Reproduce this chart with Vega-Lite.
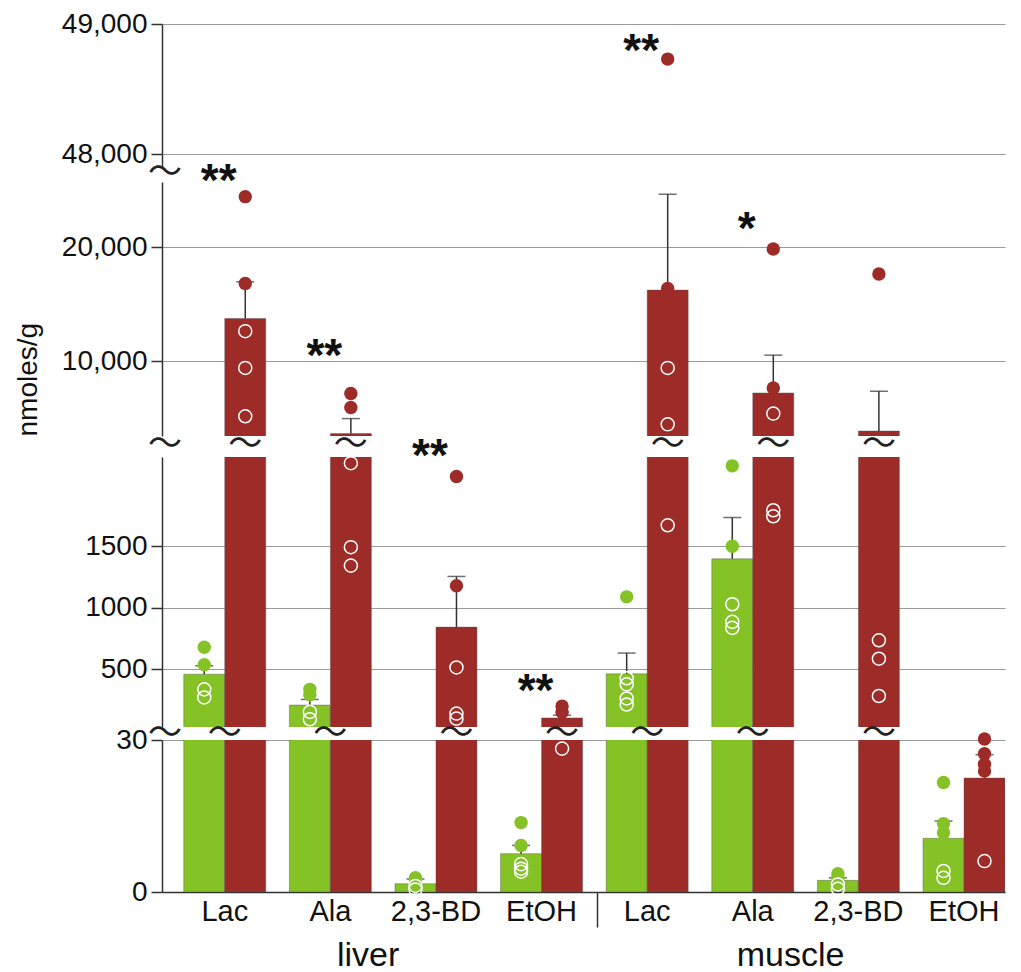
{
"$schema":"https://vega.github.io/schema/vega-lite/v6.json",
"padding":{"left":14,"top":10,"right":5,"bottom":5},
"config":{"view":{"stroke":null},"font":"Liberation Sans"},
"datasets":{
"bars":[
{"k":"liver Lac|g","cat":"liver Lac","grp":"g","mean":459,"hi":528},
{"k":"liver Lac|r","cat":"liver Lac","grp":"r","mean":13756,"hi":16976},
{"k":"liver Ala|g","cat":"liver Ala","grp":"g","mean":208,"hi":254},
{"k":"liver Ala|r","cat":"liver Ala","grp":"r","mean":3640,"hi":4959},
{"k":"liver 2,3-BD|g","cat":"liver 2,3-BD","grp":"g","mean":1.64,"hi":2.57},
{"k":"liver 2,3-BD|r","cat":"liver 2,3-BD","grp":"r","mean":842,"hi":1254},
{"k":"liver EtOH|g","cat":"liver EtOH","grp":"g","mean":7.57,"hi":9.2},
{"k":"liver EtOH|r","cat":"liver EtOH","grp":"r","mean":104,"hi":126},
{"k":"muscle Lac|g","cat":"muscle Lac","grp":"g","mean":462,"hi":631},
{"k":"muscle Lac|r","cat":"muscle Lac","grp":"r","mean":16246,"hi":24664},
{"k":"muscle Ala|g","cat":"muscle Ala","grp":"g","mean":1397,"hi":1733},
{"k":"muscle Ala|r","cat":"muscle Ala","grp":"r","mean":7211,"hi":10528},
{"k":"muscle 2,3-BD|g","cat":"muscle 2,3-BD","grp":"g","mean":2.3,"hi":2.8},
{"k":"muscle 2,3-BD|r","cat":"muscle 2,3-BD","grp":"r","mean":3868,"hi":7361},
{"k":"muscle EtOH|g","cat":"muscle EtOH","grp":"g","mean":10.6,"hi":14.0},
{"k":"muscle EtOH|r","cat":"muscle EtOH","grp":"r","mean":22.5,"hi":27.1}
],
"pts":[
{"k":"liver Lac|g","cat":"liver Lac","grp":"g","v":678},
{"k":"liver Lac|g","cat":"liver Lac","grp":"g","v":536},
{"k":"liver Lac|g","cat":"liver Lac","grp":"g","v":336},
{"k":"liver Lac|g","cat":"liver Lac","grp":"g","v":270},
{"k":"liver Lac|r","cat":"liver Lac","grp":"r","v":24453},
{"k":"liver Lac|r","cat":"liver Lac","grp":"r","v":16835},
{"k":"liver Lac|r","cat":"liver Lac","grp":"r","v":12639},
{"k":"liver Lac|r","cat":"liver Lac","grp":"r","v":9411},
{"k":"liver Lac|r","cat":"liver Lac","grp":"r","v":5162},
{"k":"liver Ala|g","cat":"liver Ala","grp":"g","v":336},
{"k":"liver Ala|g","cat":"liver Ala","grp":"g","v":293},
{"k":"liver Ala|g","cat":"liver Ala","grp":"g","v":153},
{"k":"liver Ala|g","cat":"liver Ala","grp":"g","v":93},
{"k":"liver Ala|r","cat":"liver Ala","grp":"r","v":7159},
{"k":"liver Ala|r","cat":"liver Ala","grp":"r","v":5927},
{"k":"liver Ala|r","cat":"liver Ala","grp":"r","v":2175},
{"k":"liver Ala|r","cat":"liver Ala","grp":"r","v":1492},
{"k":"liver Ala|r","cat":"liver Ala","grp":"r","v":1342},
{"k":"liver 2,3-BD|g","cat":"liver 2,3-BD","grp":"g","v":2.8},
{"k":"liver 2,3-BD|g","cat":"liver 2,3-BD","grp":"g","v":2.5},
{"k":"liver 2,3-BD|g","cat":"liver 2,3-BD","grp":"g","v":1.2},
{"k":"liver 2,3-BD|g","cat":"liver 2,3-BD","grp":"g","v":0.5},
{"k":"liver 2,3-BD|r","cat":"liver 2,3-BD","grp":"r","v":2066},
{"k":"liver 2,3-BD|r","cat":"liver 2,3-BD","grp":"r","v":1178},
{"k":"liver 2,3-BD|r","cat":"liver 2,3-BD","grp":"r","v":514},
{"k":"liver 2,3-BD|r","cat":"liver 2,3-BD","grp":"r","v":139},
{"k":"liver 2,3-BD|r","cat":"liver 2,3-BD","grp":"r","v":98},
{"k":"liver EtOH|g","cat":"liver EtOH","grp":"g","v":13.7},
{"k":"liver EtOH|g","cat":"liver EtOH","grp":"g","v":9.2},
{"k":"liver EtOH|g","cat":"liver EtOH","grp":"g","v":5.5},
{"k":"liver EtOH|g","cat":"liver EtOH","grp":"g","v":4.6},
{"k":"liver EtOH|g","cat":"liver EtOH","grp":"g","v":4.0},
{"k":"liver EtOH|r","cat":"liver EtOH","grp":"r","v":200},
{"k":"liver EtOH|r","cat":"liver EtOH","grp":"r","v":150},
{"k":"liver EtOH|r","cat":"liver EtOH","grp":"r","v":28.3},
{"k":"muscle Lac|g","cat":"muscle Lac","grp":"g","v":1088},
{"k":"muscle Lac|g","cat":"muscle Lac","grp":"g","v":426},
{"k":"muscle Lac|g","cat":"muscle Lac","grp":"g","v":377},
{"k":"muscle Lac|g","cat":"muscle Lac","grp":"g","v":262},
{"k":"muscle Lac|g","cat":"muscle Lac","grp":"g","v":213},
{"k":"muscle Lac|r","cat":"muscle Lac","grp":"r","v":48730},
{"k":"muscle Lac|r","cat":"muscle Lac","grp":"r","v":16395},
{"k":"muscle Lac|r","cat":"muscle Lac","grp":"r","v":9411},
{"k":"muscle Lac|r","cat":"muscle Lac","grp":"r","v":4458},
{"k":"muscle Lac|r","cat":"muscle Lac","grp":"r","v":1670},
{"k":"muscle Ala|g","cat":"muscle Ala","grp":"g","v":2153},
{"k":"muscle Ala|g","cat":"muscle Ala","grp":"g","v":1500},
{"k":"muscle Ala|g","cat":"muscle Ala","grp":"g","v":1028},
{"k":"muscle Ala|g","cat":"muscle Ala","grp":"g","v":885},
{"k":"muscle Ala|g","cat":"muscle Ala","grp":"g","v":836},
{"k":"muscle Ala|r","cat":"muscle Ala","grp":"r","v":19853},
{"k":"muscle Ala|r","cat":"muscle Ala","grp":"r","v":7651},
{"k":"muscle Ala|r","cat":"muscle Ala","grp":"r","v":5399},
{"k":"muscle Ala|r","cat":"muscle Ala","grp":"r","v":1792},
{"k":"muscle Ala|r","cat":"muscle Ala","grp":"r","v":1743},
{"k":"muscle 2,3-BD|g","cat":"muscle 2,3-BD","grp":"g","v":3.6},
{"k":"muscle 2,3-BD|g","cat":"muscle 2,3-BD","grp":"g","v":2.7},
{"k":"muscle 2,3-BD|g","cat":"muscle 2,3-BD","grp":"g","v":1.5},
{"k":"muscle 2,3-BD|g","cat":"muscle 2,3-BD","grp":"g","v":0.65},
{"k":"muscle 2,3-BD|r","cat":"muscle 2,3-BD","grp":"r","v":17653},
{"k":"muscle 2,3-BD|r","cat":"muscle 2,3-BD","grp":"r","v":735},
{"k":"muscle 2,3-BD|r","cat":"muscle 2,3-BD","grp":"r","v":585},
{"k":"muscle 2,3-BD|r","cat":"muscle 2,3-BD","grp":"r","v":282},
{"k":"muscle EtOH|g","cat":"muscle EtOH","grp":"g","v":21.6},
{"k":"muscle EtOH|g","cat":"muscle EtOH","grp":"g","v":13.5},
{"k":"muscle EtOH|g","cat":"muscle EtOH","grp":"g","v":11.7},
{"k":"muscle EtOH|g","cat":"muscle EtOH","grp":"g","v":4.15},
{"k":"muscle EtOH|g","cat":"muscle EtOH","grp":"g","v":2.8},
{"k":"muscle EtOH|r","cat":"muscle EtOH","grp":"r","v":30.2},
{"k":"muscle EtOH|r","cat":"muscle EtOH","grp":"r","v":27.3},
{"k":"muscle EtOH|r","cat":"muscle EtOH","grp":"r","v":25.2},
{"k":"muscle EtOH|r","cat":"muscle EtOH","grp":"r","v":23.9},
{"k":"muscle EtOH|r","cat":"muscle EtOH","grp":"r","v":6.1}
],
"ast":[
{"seg":4,"cat":"muscle Lac","t":"**","v":48879},
{"seg":3,"cat":"liver Lac","t":"**","v":26800},
{"seg":3,"cat":"liver Ala","t":"**","v":11407},
{"seg":3,"cat":"muscle Ala","t":"*","v":22580},
{"seg":2,"cat":"liver 2,3-BD","t":"**","v":2325},
{"seg":2,"cat":"liver EtOH","t":"**","v":416}
],
"sq":[
{"brk":"A","kind":"axis","cat":"liver Lac","grp":"g"},
{"brk":"A","kind":"pair","cat":"liver Lac","grp":"g"},
{"brk":"A","kind":"pair","cat":"liver Ala","grp":"g"},
{"brk":"A","kind":"bar","cat":"liver 2,3-BD","grp":"r"},
{"brk":"A","kind":"bar","cat":"liver EtOH","grp":"r"},
{"brk":"A","kind":"pair","cat":"muscle Lac","grp":"g"},
{"brk":"A","kind":"pair","cat":"muscle Ala","grp":"g"},
{"brk":"A","kind":"bar","cat":"muscle 2,3-BD","grp":"r"},
{"brk":"B","kind":"axis","cat":"liver Lac","grp":"g"},
{"brk":"B","kind":"bar","cat":"liver Lac","grp":"r"},
{"brk":"B","kind":"bar","cat":"liver Ala","grp":"r"},
{"brk":"B","kind":"bar","cat":"muscle Lac","grp":"r"},
{"brk":"B","kind":"bar","cat":"muscle Ala","grp":"r"},
{"brk":"B","kind":"bar","cat":"muscle 2,3-BD","grp":"r"},
{"brk":"C","kind":"axis","cat":"liver Lac","grp":"g"}
],
"grpl":[
{"cat":"liver Ala","t":"liver"},
{"cat":"muscle Ala","t":"muscle"}
]
},
"spacing":6,
"bounds":"flush",
"vconcat":[
{"width":843,"height":143,
"layer":[
{"data":{"name":"bars"},"mark":{"type":"bar","clip":true,"stroke":"#555","strokeWidth":0.6,"strokeOpacity":0.7},
"encoding":{"x":{"field":"cat","type":"nominal","scale":{"domain":["liver Lac","liver Ala","liver 2,3-BD","liver EtOH","muscle Lac","muscle Ala","muscle 2,3-BD","muscle EtOH"],"paddingInner":0.2235,"paddingOuter":0.103,"align":1},"axis":null},
"xOffset":{"field":"grp","type":"nominal","scale":{"domain":["g","r"],"paddingInner":0,"paddingOuter":0}},
"y":{"field":"mean","type":"quantitative","scale":{"domain":[47900,49000],"nice":false,"zero":false},
"axis":{"values":[48000,49000],"format":",d","title":null,"tickSize":11,"tickWidth":1.5,"tickColor":"#333","domainColor":"#333","domainWidth":1.5,"labelPadding":4,"labelFontSize":28,"labelColor":"#111","labelFont":"Liberation Sans","grid":true,"gridColor":"#9a9a9a","gridWidth":1,"labelOverlap":false,"labelFlush":false,"labelBound":false}},
"color":{"field":"grp","type":"nominal","scale":{"domain":["g","r"],"range":["#84c225","#9d2b28"]},"legend":null}}},
{"data":{"name":"pts"},"transform":[{"lookup":"k","from":{"data":{"name":"bars"},"key":"k","fields":["mean"]}},{"filter":"datum.v > datum.mean && datum.v > 30000"}],
"mark":{"type":"circle","size":180,"opacity":1},
"encoding":{"x":{"field":"cat","type":"nominal","scale":{"domain":["liver Lac","liver Ala","liver 2,3-BD","liver EtOH","muscle Lac","muscle Ala","muscle 2,3-BD","muscle EtOH"],"paddingInner":0.2235,"paddingOuter":0.103,"align":1},"axis":null},
"xOffset":{"field":"grp","type":"nominal","scale":{"domain":["g","r"],"paddingInner":0,"paddingOuter":0}},
"y":{"field":"v","type":"quantitative","scale":{"domain":[47900,49000],"nice":false,"zero":false}},
"color":{"field":"grp","type":"nominal","scale":{"domain":["g","r"],"range":["#84c225","#9d2b28"]},"legend":null}}},
{"data":{"name":"ast"},"transform":[{"filter":"datum.seg === 4"}],
"mark":{"type":"text","fontSize":46,"fontWeight":"bold","baseline":"alphabetic","dy":26,"dx":-6,"color":"#111"},
"encoding":{"x":{"field":"cat","type":"nominal","scale":{"domain":["liver Lac","liver Ala","liver 2,3-BD","liver EtOH","muscle Lac","muscle Ala","muscle 2,3-BD","muscle EtOH"],"paddingInner":0.2235,"paddingOuter":0.103,"align":1},"axis":null},
"y":{"field":"v","type":"quantitative","scale":{"domain":[47900,49000],"nice":false,"zero":false}},
"text":{"field":"t"}}},
{"data":{"name":"sq"},"transform":[{"filter":"datum.brk === 'C' && datum.kind === 'axis'"}],
"mark":{"type":"text","text":"〜","font":"Noto Sans CJK JP","fontSize":34,"baseline":"middle","dy":6,"color":"#222"},
"encoding":{"x":{"field":"cat","type":"nominal","bandPosition":-0.23,"scale":{"domain":["liver Lac","liver Ala","liver 2,3-BD","liver EtOH","muscle Lac","muscle Ala","muscle 2,3-BD","muscle EtOH"],"paddingInner":0.2235,"paddingOuter":0.103,"align":1},"axis":null},
"y":{"datum":47900,"type":"quantitative","scale":{"domain":[47900,49000],"nice":false,"zero":false}}}}
]},
{"width":843,"height":3,"data":{"values":[{"a":1}]},"mark":{"type":"point","opacity":0},"encoding":{}},
{"width":843,"height":254,
"layer":[
{"data":{"name":"bars"},"mark":{"type":"bar","clip":true,"stroke":"#555","strokeWidth":0.6,"strokeOpacity":0.7},
"encoding":{"x":{"field":"cat","type":"nominal","scale":{"domain":["liver Lac","liver Ala","liver 2,3-BD","liver EtOH","muscle Lac","muscle Ala","muscle 2,3-BD","muscle EtOH"],"paddingInner":0.2235,"paddingOuter":0.103,"align":1},"axis":null},
"xOffset":{"field":"grp","type":"nominal","scale":{"domain":["g","r"],"paddingInner":0,"paddingOuter":0}},
"y":{"field":"mean","type":"quantitative","scale":{"domain":[3430,25740],"nice":false,"zero":false},
"axis":{"values":[10000,20000],"format":",d","title":"nmoles/g","titleFontSize":28,"titleFontWeight":"normal","titleColor":"#111","titleFont":"Liberation Sans","titleAnchor":"start","titlePadding":19,"tickSize":11,"tickWidth":1.5,"tickColor":"#333","domainColor":"#333","domainWidth":1.5,"labelPadding":4,"labelFontSize":28,"labelColor":"#111","labelFont":"Liberation Sans","grid":true,"gridColor":"#9a9a9a","gridWidth":1,"labelOverlap":false,"labelFlush":false,"labelBound":false}},
"color":{"field":"grp","type":"nominal","scale":{"domain":["g","r"],"range":["#84c225","#9d2b28"]},"legend":null}}},
{"data":{"name":"bars"},"transform":[{"filter":"datum.hi > 3430"}],"mark":{"type":"rule","clip":true,"color":"#333","strokeWidth":1.5},
"encoding":{"x":{"field":"cat","type":"nominal","scale":{"domain":["liver Lac","liver Ala","liver 2,3-BD","liver EtOH","muscle Lac","muscle Ala","muscle 2,3-BD","muscle EtOH"],"paddingInner":0.2235,"paddingOuter":0.103,"align":1},"axis":null},
"xOffset":{"field":"grp","type":"nominal","scale":{"domain":["g","r"],"paddingInner":0,"paddingOuter":0}},
"y":{"field":"mean","type":"quantitative","scale":{"domain":[3430,25740],"nice":false,"zero":false}},
"y2":{"field":"hi"}}},
{"data":{"name":"bars"},"transform":[{"filter":"datum.hi > 3430"}],"mark":{"type":"tick","clip":true,"color":"#333","thickness":1.5,"size":18},
"encoding":{"x":{"field":"cat","type":"nominal","scale":{"domain":["liver Lac","liver Ala","liver 2,3-BD","liver EtOH","muscle Lac","muscle Ala","muscle 2,3-BD","muscle EtOH"],"paddingInner":0.2235,"paddingOuter":0.103,"align":1},"axis":null},
"xOffset":{"field":"grp","type":"nominal","scale":{"domain":["g","r"],"paddingInner":0,"paddingOuter":0}},
"y":{"field":"hi","type":"quantitative","scale":{"domain":[3430,25740],"nice":false,"zero":false}}}},
{"data":{"name":"pts"},"transform":[{"lookup":"k","from":{"data":{"name":"bars"},"key":"k","fields":["mean"]}},{"filter":"datum.v > datum.mean && datum.v > 2300 && datum.v <= 30000"}],
"mark":{"type":"circle","size":180,"opacity":1},
"encoding":{"x":{"field":"cat","type":"nominal","scale":{"domain":["liver Lac","liver Ala","liver 2,3-BD","liver EtOH","muscle Lac","muscle Ala","muscle 2,3-BD","muscle EtOH"],"paddingInner":0.2235,"paddingOuter":0.103,"align":1},"axis":null},
"xOffset":{"field":"grp","type":"nominal","scale":{"domain":["g","r"],"paddingInner":0,"paddingOuter":0}},
"y":{"field":"v","type":"quantitative","scale":{"domain":[3430,25740],"nice":false,"zero":false}},
"color":{"field":"grp","type":"nominal","scale":{"domain":["g","r"],"range":["#84c225","#9d2b28"]},"legend":null}}},
{"data":{"name":"pts"},"transform":[{"lookup":"k","from":{"data":{"name":"bars"},"key":"k","fields":["mean"]}},{"filter":"datum.v <= datum.mean && datum.v > 2300 && datum.v <= 30000"}],
"mark":{"type":"point","shape":"circle","size":170,"filled":false,"stroke":"#ffffff","strokeWidth":1.5,"opacity":1},
"encoding":{"x":{"field":"cat","type":"nominal","scale":{"domain":["liver Lac","liver Ala","liver 2,3-BD","liver EtOH","muscle Lac","muscle Ala","muscle 2,3-BD","muscle EtOH"],"paddingInner":0.2235,"paddingOuter":0.103,"align":1},"axis":null},
"xOffset":{"field":"grp","type":"nominal","scale":{"domain":["g","r"],"paddingInner":0,"paddingOuter":0}},
"y":{"field":"v","type":"quantitative","scale":{"domain":[3430,25740],"nice":false,"zero":false}}}},
{"data":{"name":"ast"},"transform":[{"filter":"datum.seg === 3"}],
"mark":{"type":"text","fontSize":46,"fontWeight":"bold","baseline":"alphabetic","dy":26,"dx":-6,"color":"#111"},
"encoding":{"x":{"field":"cat","type":"nominal","scale":{"domain":["liver Lac","liver Ala","liver 2,3-BD","liver EtOH","muscle Lac","muscle Ala","muscle 2,3-BD","muscle EtOH"],"paddingInner":0.2235,"paddingOuter":0.103,"align":1},"axis":null},
"y":{"field":"v","type":"quantitative","scale":{"domain":[3430,25740],"nice":false,"zero":false}},
"text":{"field":"t"}}},
{"data":{"name":"sq"},"transform":[{"filter":"datum.brk === 'B' && datum.kind === 'axis'"}],
"mark":{"type":"text","text":"〜","font":"Noto Sans CJK JP","fontSize":34,"baseline":"middle","dy":9,"color":"#222"},
"encoding":{"x":{"field":"cat","type":"nominal","bandPosition":-0.23,"scale":{"domain":["liver Lac","liver Ala","liver 2,3-BD","liver EtOH","muscle Lac","muscle Ala","muscle 2,3-BD","muscle EtOH"],"paddingInner":0.2235,"paddingOuter":0.103,"align":1},"axis":null},
"y":{"datum":3430,"type":"quantitative","scale":{"domain":[3430,25740],"nice":false,"zero":false}}}},
{"data":{"name":"sq"},"transform":[{"filter":"datum.brk === 'B' && datum.kind === 'bar'"}],
"mark":{"type":"text","text":"〜","font":"Noto Sans CJK JP","fontSize":34,"baseline":"middle","dy":9,"color":"#222"},
"encoding":{"x":{"field":"cat","type":"nominal","scale":{"domain":["liver Lac","liver Ala","liver 2,3-BD","liver EtOH","muscle Lac","muscle Ala","muscle 2,3-BD","muscle EtOH"],"paddingInner":0.2235,"paddingOuter":0.103,"align":1},"axis":null},
"xOffset":{"field":"grp","type":"nominal","scale":{"domain":["g","r"],"paddingInner":0,"paddingOuter":0}},
"y":{"datum":3430,"type":"quantitative","scale":{"domain":[3430,25740],"nice":false,"zero":false}}}}
]},
{"width":843,"height":9,"data":{"values":[{"a":1}]},"mark":{"type":"point","opacity":0},"encoding":{}},
{"width":843,"height":270,
"layer":[
{"data":{"name":"bars"},"mark":{"type":"bar","clip":true,"stroke":"#555","strokeWidth":0.6,"strokeOpacity":0.7},
"encoding":{"x":{"field":"cat","type":"nominal","scale":{"domain":["liver Lac","liver Ala","liver 2,3-BD","liver EtOH","muscle Lac","muscle Ala","muscle 2,3-BD","muscle EtOH"],"paddingInner":0.2235,"paddingOuter":0.103,"align":1},"axis":null},
"xOffset":{"field":"grp","type":"nominal","scale":{"domain":["g","r"],"paddingInner":0,"paddingOuter":0}},
"y":{"field":"mean","type":"quantitative","scale":{"domain":[30,2225],"nice":false,"zero":false},
"axis":{"values":[500,1000,1500],"format":"d","title":null,"tickSize":11,"tickWidth":1.5,"tickColor":"#333","domainColor":"#333","domainWidth":1.5,"labelPadding":4,"labelFontSize":28,"labelColor":"#111","labelFont":"Liberation Sans","grid":true,"gridColor":"#9a9a9a","gridWidth":1,"labelOverlap":false,"labelFlush":false,"labelBound":false}},
"color":{"field":"grp","type":"nominal","scale":{"domain":["g","r"],"range":["#84c225","#9d2b28"]},"legend":null}}},
{"data":{"name":"bars"},"transform":[{"filter":"datum.hi > 31"}],"mark":{"type":"rule","clip":true,"color":"#333","strokeWidth":1.5},
"encoding":{"x":{"field":"cat","type":"nominal","scale":{"domain":["liver Lac","liver Ala","liver 2,3-BD","liver EtOH","muscle Lac","muscle Ala","muscle 2,3-BD","muscle EtOH"],"paddingInner":0.2235,"paddingOuter":0.103,"align":1},"axis":null},
"xOffset":{"field":"grp","type":"nominal","scale":{"domain":["g","r"],"paddingInner":0,"paddingOuter":0}},
"y":{"field":"mean","type":"quantitative","scale":{"domain":[30,2225],"nice":false,"zero":false}},
"y2":{"field":"hi"}}},
{"data":{"name":"bars"},"transform":[{"filter":"datum.hi > 31"}],"mark":{"type":"tick","clip":true,"color":"#333","thickness":1.5,"size":18},
"encoding":{"x":{"field":"cat","type":"nominal","scale":{"domain":["liver Lac","liver Ala","liver 2,3-BD","liver EtOH","muscle Lac","muscle Ala","muscle 2,3-BD","muscle EtOH"],"paddingInner":0.2235,"paddingOuter":0.103,"align":1},"axis":null},
"xOffset":{"field":"grp","type":"nominal","scale":{"domain":["g","r"],"paddingInner":0,"paddingOuter":0}},
"y":{"field":"hi","type":"quantitative","scale":{"domain":[30,2225],"nice":false,"zero":false}}}},
{"data":{"name":"pts"},"transform":[{"lookup":"k","from":{"data":{"name":"bars"},"key":"k","fields":["mean"]}},{"filter":"datum.v > datum.mean && datum.v > 31 && datum.v <= 2300"}],
"mark":{"type":"circle","size":180,"opacity":1},
"encoding":{"x":{"field":"cat","type":"nominal","scale":{"domain":["liver Lac","liver Ala","liver 2,3-BD","liver EtOH","muscle Lac","muscle Ala","muscle 2,3-BD","muscle EtOH"],"paddingInner":0.2235,"paddingOuter":0.103,"align":1},"axis":null},
"xOffset":{"field":"grp","type":"nominal","scale":{"domain":["g","r"],"paddingInner":0,"paddingOuter":0}},
"y":{"field":"v","type":"quantitative","scale":{"domain":[30,2225],"nice":false,"zero":false}},
"color":{"field":"grp","type":"nominal","scale":{"domain":["g","r"],"range":["#84c225","#9d2b28"]},"legend":null}}},
{"data":{"name":"pts"},"transform":[{"lookup":"k","from":{"data":{"name":"bars"},"key":"k","fields":["mean"]}},{"filter":"datum.v <= datum.mean && datum.v > 31 && datum.v <= 2300"}],
"mark":{"type":"point","shape":"circle","size":170,"filled":false,"stroke":"#ffffff","strokeWidth":1.5,"opacity":1},
"encoding":{"x":{"field":"cat","type":"nominal","scale":{"domain":["liver Lac","liver Ala","liver 2,3-BD","liver EtOH","muscle Lac","muscle Ala","muscle 2,3-BD","muscle EtOH"],"paddingInner":0.2235,"paddingOuter":0.103,"align":1},"axis":null},
"xOffset":{"field":"grp","type":"nominal","scale":{"domain":["g","r"],"paddingInner":0,"paddingOuter":0}},
"y":{"field":"v","type":"quantitative","scale":{"domain":[30,2225],"nice":false,"zero":false}}}},
{"data":{"name":"ast"},"transform":[{"filter":"datum.seg === 2"}],
"mark":{"type":"text","fontSize":46,"fontWeight":"bold","baseline":"alphabetic","dy":26,"dx":-6,"color":"#111"},
"encoding":{"x":{"field":"cat","type":"nominal","scale":{"domain":["liver Lac","liver Ala","liver 2,3-BD","liver EtOH","muscle Lac","muscle Ala","muscle 2,3-BD","muscle EtOH"],"paddingInner":0.2235,"paddingOuter":0.103,"align":1},"axis":null},
"y":{"field":"v","type":"quantitative","scale":{"domain":[30,2225],"nice":false,"zero":false}},
"text":{"field":"t"}}},
{"data":{"name":"sq"},"transform":[{"filter":"datum.brk === 'A' && datum.kind === 'axis'"}],
"mark":{"type":"text","text":"〜","font":"Noto Sans CJK JP","fontSize":34,"baseline":"middle","dy":7,"color":"#222"},
"encoding":{"x":{"field":"cat","type":"nominal","bandPosition":-0.23,"scale":{"domain":["liver Lac","liver Ala","liver 2,3-BD","liver EtOH","muscle Lac","muscle Ala","muscle 2,3-BD","muscle EtOH"],"paddingInner":0.2235,"paddingOuter":0.103,"align":1},"axis":null},
"y":{"datum":30,"type":"quantitative","scale":{"domain":[30,2225],"nice":false,"zero":false}}}},
{"data":{"name":"sq"},"transform":[{"filter":"datum.brk === 'A' && datum.kind === 'pair'"}],
"mark":{"type":"text","text":"〜","font":"Noto Sans CJK JP","fontSize":34,"baseline":"middle","dy":7,"color":"#222"},
"encoding":{"x":{"field":"cat","type":"nominal","scale":{"domain":["liver Lac","liver Ala","liver 2,3-BD","liver EtOH","muscle Lac","muscle Ala","muscle 2,3-BD","muscle EtOH"],"paddingInner":0.2235,"paddingOuter":0.103,"align":1},"axis":null},
"y":{"datum":30,"type":"quantitative","scale":{"domain":[30,2225],"nice":false,"zero":false}}}},
{"data":{"name":"sq"},"transform":[{"filter":"datum.brk === 'A' && datum.kind === 'bar'"}],
"mark":{"type":"text","text":"〜","font":"Noto Sans CJK JP","fontSize":34,"baseline":"middle","dy":7,"color":"#222"},
"encoding":{"x":{"field":"cat","type":"nominal","scale":{"domain":["liver Lac","liver Ala","liver 2,3-BD","liver EtOH","muscle Lac","muscle Ala","muscle 2,3-BD","muscle EtOH"],"paddingInner":0.2235,"paddingOuter":0.103,"align":1},"axis":null},
"xOffset":{"field":"grp","type":"nominal","scale":{"domain":["g","r"],"paddingInner":0,"paddingOuter":0}},
"y":{"datum":30,"type":"quantitative","scale":{"domain":[30,2225],"nice":false,"zero":false}}}}
]},
{"width":843,"height":1,"data":{"values":[{"a":1}]},"mark":{"type":"point","opacity":0},"encoding":{}},
{"width":843,"height":152,
"layer":[
{"data":{"name":"bars"},"mark":{"type":"bar","clip":true,"stroke":"#555","strokeWidth":0.6,"strokeOpacity":0.7},
"encoding":{"x":{"field":"cat","type":"nominal","scale":{"domain":["liver Lac","liver Ala","liver 2,3-BD","liver EtOH","muscle Lac","muscle Ala","muscle 2,3-BD","muscle EtOH"],"paddingInner":0.2235,"paddingOuter":0.103,"align":1},
"axis":{"orient":"bottom","title":null,"labelExpr":"split(datum.value, ' ')[1]","labelAngle":0,"labelFontSize":29,"labelFont":"Liberation Sans","labelColor":"#111","labelPadding":-30,"bandPosition":-0.11,"ticks":true,"tickSize":35,"tickWidth":1.5,"tickColor":{"condition":{"test":"datum.value === 'muscle Lac'","value":"#333"},"value":"transparent"},"domainColor":"#333","domainWidth":1.5,"grid":false,"labelOverlap":false,"labelBound":false}},
"xOffset":{"field":"grp","type":"nominal","scale":{"domain":["g","r"],"paddingInner":0,"paddingOuter":0}},
"y":{"field":"mean","type":"quantitative","scale":{"domain":[0,30],"nice":false,"zero":false},
"axis":{"values":[0,30],"format":"d","title":null,"tickSize":11,"tickWidth":1.5,"tickColor":"#333","domainColor":"#333","domainWidth":1.5,"labelPadding":4,"labelFontSize":28,"labelColor":"#111","labelFont":"Liberation Sans","grid":true,"gridColor":"#9a9a9a","gridWidth":1,"labelOverlap":false,"labelFlush":false,"labelBound":false}},
"color":{"field":"grp","type":"nominal","scale":{"domain":["g","r"],"range":["#84c225","#9d2b28"]},"legend":null}}},
{"data":{"name":"bars"},"mark":{"type":"rule","clip":true,"color":"#333","strokeWidth":1.5},
"encoding":{"x":{"field":"cat","type":"nominal","scale":{"domain":["liver Lac","liver Ala","liver 2,3-BD","liver EtOH","muscle Lac","muscle Ala","muscle 2,3-BD","muscle EtOH"],"paddingInner":0.2235,"paddingOuter":0.103,"align":1}},
"xOffset":{"field":"grp","type":"nominal","scale":{"domain":["g","r"],"paddingInner":0,"paddingOuter":0}},
"y":{"field":"mean","type":"quantitative","scale":{"domain":[0,30],"nice":false,"zero":false}},
"y2":{"field":"hi"}}},
{"data":{"name":"bars"},"mark":{"type":"tick","clip":true,"color":"#333","thickness":1.5,"size":18},
"encoding":{"x":{"field":"cat","type":"nominal","scale":{"domain":["liver Lac","liver Ala","liver 2,3-BD","liver EtOH","muscle Lac","muscle Ala","muscle 2,3-BD","muscle EtOH"],"paddingInner":0.2235,"paddingOuter":0.103,"align":1}},
"xOffset":{"field":"grp","type":"nominal","scale":{"domain":["g","r"],"paddingInner":0,"paddingOuter":0}},
"y":{"field":"hi","type":"quantitative","scale":{"domain":[0,30],"nice":false,"zero":false}}}},
{"data":{"name":"pts"},"transform":[{"lookup":"k","from":{"data":{"name":"bars"},"key":"k","fields":["mean"]}},{"filter":"datum.v > datum.mean && datum.v <= 31"}],
"mark":{"type":"circle","size":180,"opacity":1},
"encoding":{"x":{"field":"cat","type":"nominal","scale":{"domain":["liver Lac","liver Ala","liver 2,3-BD","liver EtOH","muscle Lac","muscle Ala","muscle 2,3-BD","muscle EtOH"],"paddingInner":0.2235,"paddingOuter":0.103,"align":1}},
"xOffset":{"field":"grp","type":"nominal","scale":{"domain":["g","r"],"paddingInner":0,"paddingOuter":0}},
"y":{"field":"v","type":"quantitative","scale":{"domain":[0,30],"nice":false,"zero":false}},
"color":{"field":"grp","type":"nominal","scale":{"domain":["g","r"],"range":["#84c225","#9d2b28"]},"legend":null}}},
{"data":{"name":"pts"},"transform":[{"lookup":"k","from":{"data":{"name":"bars"},"key":"k","fields":["mean"]}},{"filter":"datum.v <= datum.mean && datum.v <= 31"}],
"mark":{"type":"point","shape":"circle","size":170,"filled":false,"stroke":"#ffffff","strokeWidth":1.5,"opacity":1},
"encoding":{"x":{"field":"cat","type":"nominal","scale":{"domain":["liver Lac","liver Ala","liver 2,3-BD","liver EtOH","muscle Lac","muscle Ala","muscle 2,3-BD","muscle EtOH"],"paddingInner":0.2235,"paddingOuter":0.103,"align":1}},
"xOffset":{"field":"grp","type":"nominal","scale":{"domain":["g","r"],"paddingInner":0,"paddingOuter":0}},
"y":{"field":"v","type":"quantitative","scale":{"domain":[0,30],"nice":false,"zero":false}}}},
{"data":{"name":"grpl"},
"mark":{"type":"text","fontSize":34,"baseline":"middle","dy":64,"color":"#111"},
"encoding":{"x":{"field":"cat","type":"nominal","bandPosition":0.96,"scale":{"domain":["liver Lac","liver Ala","liver 2,3-BD","liver EtOH","muscle Lac","muscle Ala","muscle 2,3-BD","muscle EtOH"],"paddingInner":0.2235,"paddingOuter":0.103,"align":1}},
"y":{"datum":0,"type":"quantitative","scale":{"domain":[0,30],"nice":false,"zero":false}},
"text":{"field":"t"}}}
]}
]
}
